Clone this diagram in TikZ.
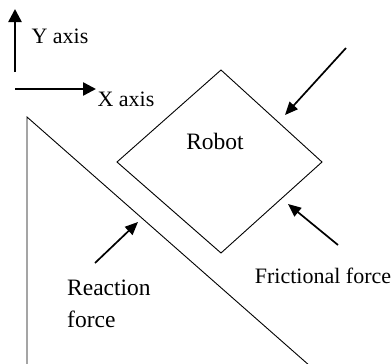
\documentclass[tikz,border=0pt]{standalone}
\usepackage{fontspec}
\setmainfont{Liberation Serif}
\usetikzlibrary{arrows.meta}
\begin{document}
\begin{tikzpicture}[x=1pt,y=-1pt,
  thin line/.style={draw=black,line width=0.9pt},
  force/.style={draw=black,line width=1.7pt,-{Triangle[length=13pt,width=11pt]}},
  axisarrow/.style={draw=black,line width=2.4pt,-{Triangle[length=13pt,width=13pt]}},
  lbl/.style={inner sep=0pt,font=\fontsize{22}{26}\selectfont},
  biglbl/.style={inner sep=0pt,font=\fontsize{23.5}{32}\selectfont}]
\useasboundingbox (0,0) rectangle (392,364);
% axes
\coordinate (ystart) at (15,72);
\coordinate (yend) at (15,9);
\coordinate (xstart) at (15,89);
\coordinate (xend) at (96,89);
\draw[axisarrow] (ystart) -- (yend);
\draw[axisarrow] (xstart) -- (xend);
\node[lbl] (ylab) at (60,36) {Y axis};
\node[lbl] (xlab) at (126,99) {X axis};
% triangle (incline)
\coordinate (tA) at (27,117);
\coordinate (tB) at (27,366);
\coordinate (tC) at (310,366);
\draw[thin line] (tB) -- (tA) -- (tC);
% robot diamond
\coordinate (rT) at (221,70);
\coordinate (rR) at (322,162);
\coordinate (rB) at (221,253);
\coordinate (rL) at (117,162);
\draw[thin line] (rT) -- (rR) -- (rB) -- (rL) -- cycle;
\node[biglbl] (robot) at (215,141) {Robot};
% forces
\coordinate (f1s) at (346,48);
\coordinate (f1e) at (285,115);
\draw[force] (f1s) -- (f1e);
\coordinate (f2s) at (338,245);
\coordinate (f2e) at (288,204);
\draw[force] (f2s) -- (f2e);
\coordinate (f3s) at (95,263);
\coordinate (f3e) at (138,222);
\draw[force] (f3s) -- (f3e);
\node[lbl] (fric) at (323,276) {Frictional force};
\node[biglbl,anchor=west,align=left] (react) at (67,304) {Reaction\\force};
\end{tikzpicture}
\end{document}
